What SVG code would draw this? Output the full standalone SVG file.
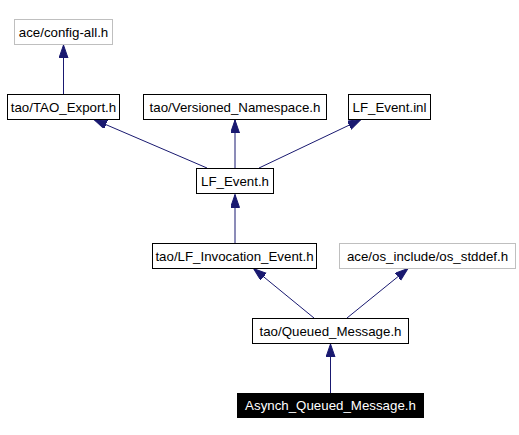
<svg xmlns="http://www.w3.org/2000/svg" width="519" height="435" viewBox="0 0 519 435">
<defs>
<style>
.n rect{fill:#ffffff;stroke:#000000;stroke-width:1}
.g rect{fill:#ffffff;stroke:#bfbfbf;stroke-width:1}
.cur rect{fill:#000000;stroke:#000000;stroke-width:1}
text{font-family:"Liberation Sans",Arial,sans-serif;font-size:13.3px;text-anchor:middle;fill:#000000}
.cur text{fill:#ffffff}
#edges line{stroke:#191970;stroke-width:1;marker-end:url(#ah)}
</style>
<marker id="ah" markerUnits="userSpaceOnUse" markerWidth="14" markerHeight="10" refX="13" refY="4.5" orient="auto">
<path d="M0,0 L13,4.5 L0,9 z" fill="#191970" stroke="#191970" stroke-width="1"/>
</marker>
</defs>
<rect x="0" y="0" width="519" height="435" fill="#ffffff"/>
<g id="edges">
<line x1="63.5" y1="94" x2="63.5" y2="45"/>
<line x1="207" y1="168" x2="94" y2="119.5"/>
<line x1="235" y1="168" x2="235" y2="120"/>
<line x1="259" y1="168" x2="361" y2="119.5"/>
<line x1="235" y1="243" x2="235" y2="194.5"/>
<line x1="314" y1="318" x2="253.5" y2="268.5"/>
<line x1="347" y1="318" x2="408" y2="268.5"/>
<line x1="330.5" y1="393" x2="330.5" y2="344"/>
</g>
<g id="node-config-all" class="g"><rect x="14.5" y="19.5" width="98" height="25"/><text x="63.5" y="36.5">ace/config-all.h</text></g>
<g id="node-tao-export" class="n"><rect x="7.5" y="94.5" width="112" height="25"/><text x="63.5" y="111.5">tao/TAO_Export.h</text></g>
<g id="node-versioned" class="n"><rect x="143.5" y="94.5" width="183" height="25"/><text x="235" y="111.5">tao/Versioned_Namespace.h</text></g>
<g id="node-lf-event-inl" class="n"><rect x="348.5" y="94.5" width="82" height="25"/><text x="389.5" y="111.5">LF_Event.inl</text></g>
<g id="node-lf-event" class="n"><rect x="196.5" y="168.5" width="77" height="25"/><text x="235" y="185.5">LF_Event.h</text></g>
<g id="node-lf-invocation" class="n"><rect x="152.5" y="243.5" width="164" height="25"/><text x="234.5" y="260.5">tao/LF_Invocation_Event.h</text></g>
<g id="node-os-stddef" class="g"><rect x="339.5" y="243.5" width="176" height="25"/><text x="427.5" y="260.5">ace/os_include/os_stddef.h</text></g>
<g id="node-queued" class="n"><rect x="252.5" y="318.5" width="156" height="25"/><text x="330.5" y="335.5">tao/Queued_Message.h</text></g>
<g id="node-asynch" class="cur"><rect x="237.5" y="393.5" width="186" height="24"/><text x="330.5" y="410">Asynch_Queued_Message.h</text></g>
</svg>
